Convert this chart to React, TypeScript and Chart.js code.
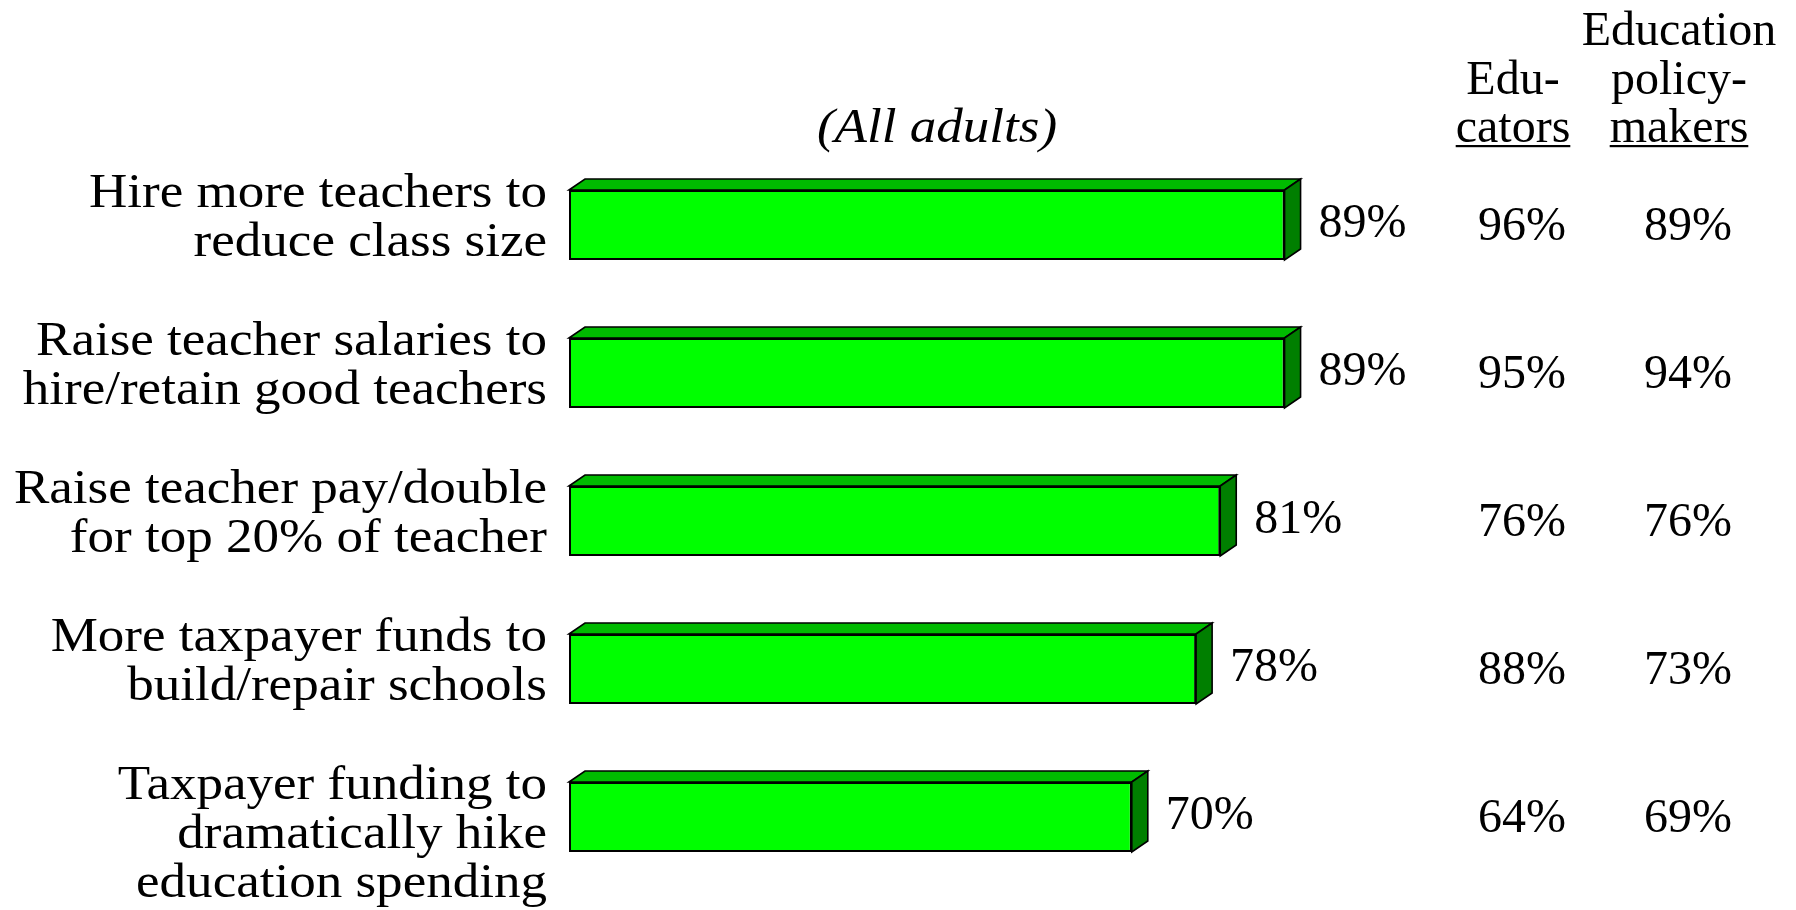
import React, { useEffect, useRef } from "react";
import { Chart, registerables } from "chart.js";

Chart.register(...registerables);

const categories: string[][] = [
  ["Hire more teachers to", "reduce class size"],
  ["Raise teacher salaries to", "hire/retain good teachers"],
  ["Raise teacher pay/double", "for top 20% of teacher"],
  ["More taxpayer funds to", "build/repair schools"],
  ["Taxpayer funding to", "dramatically hike", "education spending"],
];
const allAdults = [89, 89, 81, 78, 70];
const educators = [96, 95, 76, 88, 64];
const policymakers = [89, 94, 76, 73, 69];
const allAdultsHeader = "(All adults)";
const educatorsHeader = ["Edu-", "cators"];
const policymakersHeader = ["Education", "policy-", "makers"];

const FONT = '"Liberation Serif", "Times New Roman", serif';
const FONT_SIZE = 48;
const LINE = 49;
const DX = 16;
const DY = 11;
const STRETCH = 1.105;

const pct = (v: number) => `${v}%`;

const threeDPlugin = {
  id: "threeD",
  afterDatasetsDraw(chart: any) {
    const ctx = chart.ctx as CanvasRenderingContext2D;
    const meta = chart.getDatasetMeta(0);
    ctx.save();
    ctx.lineWidth = 1.6;
    ctx.strokeStyle = "#000";
    ctx.lineJoin = "miter";
    meta.data.forEach((bar: any) => {
      const { x, y, base, height } = bar.getProps(["x", "y", "base", "height"], true);
      const top = y - height / 2;
      const bottom = y + height / 2;
      ctx.beginPath();
      ctx.moveTo(base, top);
      ctx.lineTo(base + DX, top - DY);
      ctx.lineTo(x + DX, top - DY);
      ctx.lineTo(x, top);
      ctx.closePath();
      ctx.fillStyle = "#00BB00";
      ctx.fill();
      ctx.stroke();
      ctx.beginPath();
      ctx.moveTo(x, top);
      ctx.lineTo(x + DX, top - DY);
      ctx.lineTo(x + DX, bottom - DY);
      ctx.lineTo(x, bottom);
      ctx.closePath();
      ctx.fillStyle = "#007F00";
      ctx.fill();
      ctx.stroke();
    });
    ctx.restore();
  },
  afterDraw(chart: any) {
    const ctx = chart.ctx as CanvasRenderingContext2D;
    const area = chart.chartArea;
    const meta = chart.getDatasetMeta(0);
    ctx.save();
    ctx.fillStyle = "#000";
    ctx.font = `${FONT_SIZE}px ${FONT}`;

    meta.data.forEach((bar: any, i: number) => {
      const { x, y, height } = bar.getProps(["x", "y", "height"], true);
      const top = y - height / 2;
      // category labels (slightly wide, as in the original)
      ctx.save();
      ctx.textAlign = "right";
      ctx.textBaseline = "middle";
      ctx.translate(area.left - 22, 0);
      ctx.scale(STRETCH, 1);
      categories[i].forEach((line, j) => {
        ctx.fillText(line, 0, top + 4 + j * LINE);
      });
      ctx.restore();

      ctx.textBaseline = "middle";
      ctx.textAlign = "left";
      ctx.fillText(pct(allAdults[i]), x + DX + 18, y - 1);
      ctx.textAlign = "center";
      ctx.fillText(pct(educators[i]), area.right + 149, y + 2);
      ctx.fillText(pct(policymakers[i]), area.right + 315, y + 2);
    });

    // column headers
    ctx.textBaseline = "alphabetic";
    ctx.textAlign = "center";
    const baseY = area.top - 9;
    const drawHeader = (lines: string[], cx: number) => {
      const n = lines.length;
      lines.forEach((line, j) => {
        ctx.fillText(line, cx, baseY - (n - 1 - j) * 48.5);
      });
      const w = ctx.measureText(lines[n - 1]).width;
      ctx.fillRect(cx - w / 2, baseY + 3, w, 2.2);
    };
    drawHeader(educatorsHeader, area.right + 140);
    drawHeader(policymakersHeader, area.right + 306);

    ctx.save();
    ctx.font = `italic ${FONT_SIZE}px ${FONT}`;
    ctx.translate(area.left + 368, baseY);
    ctx.scale(STRETCH, 1);
    ctx.fillText(allAdultsHeader, 0, 0);
    ctx.restore();

    ctx.restore();
  },
};

export default function App() {
  const ref = useRef<HTMLCanvasElement | null>(null);
  useEffect(() => {
    if (!ref.current) return;
    const chart = new Chart(ref.current, {
      type: "bar",
      data: {
        labels: categories.map((c) => c.join(" ")),
        datasets: [
          {
            label: "All adults",
            data: allAdults,
            backgroundColor: "#00FF00",
            borderColor: "#000000",
            borderWidth: 2,
            borderSkipped: false,
            barPercentage: 0.473,
            categoryPercentage: 1,
          },
        ],
      },
      options: {
        indexAxis: "y",
        animation: false,
        responsive: true,
        maintainAspectRatio: false,
        layout: { padding: { left: 569, right: 423, top: 151, bottom: 19 } },
        scales: {
          x: { display: false, min: 0, max: 100 },
          y: { display: false },
        },
        plugins: {
          legend: { display: false },
          tooltip: { enabled: false },
        },
      },
      plugins: [threeDPlugin],
    });
    return () => chart.destroy();
  }, []);
  return (
    <div
      style={{
        position: "fixed",
        left: 0,
        top: 0,
        width: 1796,
        height: 910,
        background: "#fff",
      }}
    >
      <canvas ref={ref} />
    </div>
  );
}
